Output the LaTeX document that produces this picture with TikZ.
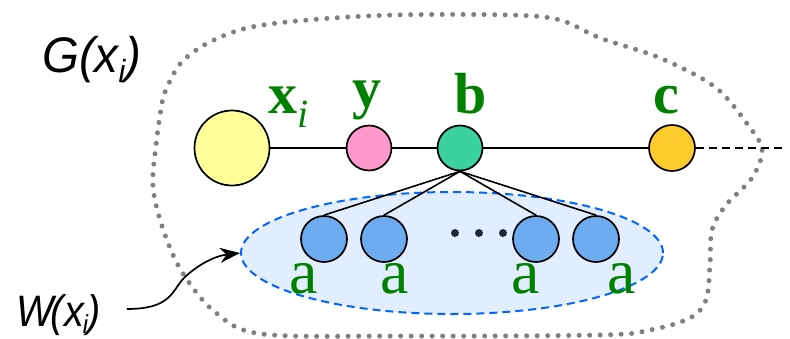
\documentclass[tikz,border=0pt]{standalone}
\usepackage{fontspec}
\setmainfont{Liberation Serif}
\newfontfamily\sansfnt{Liberation Sans}
\usetikzlibrary{arrows.meta,shapes.geometric}
\definecolor{lblgreen}{RGB}{0,128,0}
\definecolor{yel}{RGB}{255,255,153}
\definecolor{pnk}{RGB}{255,153,204}
\definecolor{tea}{RGB}{60,210,160}
\definecolor{org}{RGB}{255,204,45}
\definecolor{blu}{RGB}{110,172,240}
\definecolor{ellfill}{RGB}{226,238,253}
\definecolor{elldash}{RGB}{0,102,255}
\definecolor{dotgray}{RGB}{128,128,128}
\definecolor{dotdark}{RGB}{30,40,60}
\tikzset{
  vtx/.style={circle, draw=black, line width=1.7pt, inner sep=0pt, minimum size=#1},
  glabel/.style={text=lblgreen, inner sep=0pt, anchor=base, font=\fontsize{58}{58}\selectfont\bfseries},
  alabel/.style={text=lblgreen, inner sep=0pt, anchor=base, font=\fontsize{64}{64}\selectfont},
  slabel/.style={inner sep=0pt, anchor=base west, font=\fontsize{50}{50}\selectfont\sansfnt\itshape},
  edge/.style={line width=1.6pt, black},
  outline/.style={draw=dotgray, line width=5pt, line cap=round, dash pattern=on 0pt off 10.5pt},
}
\begin{document}
\begin{tikzpicture}[x=1pt,y=-1pt]
\useasboundingbox (0,0) rectangle (790,338);

% dotted outline of G(x_i)
\draw[outline] plot[smooth cycle, tension=0.55] coordinates {
 (165,92) (180,64) (206,44) (247,28) (308,20) (394,15) (510,15) (560,20)
 (600,38) (660,58) (715,87) (748,125) (762,150) (752,178) (726,205)
 (712,230) (710,265) (706,300) (690,318) (650,330) (600,335) (400,336)
 (262,334) (215,312) (182,272) (163,229) (153,187) (156,145) (162,103)};

% dashed ellipse W(x_i)
\node (ell) [ellipse, draw=elldash, fill=ellfill, dash pattern=on 8pt off 5pt,
  line width=2pt, minimum width=422pt, minimum height=122pt, inner sep=0pt] at (452,253) {};

% main chain
\node (nx) [vtx=75pt, fill=yel] at (232,148) {};
\node (ny) [vtx=45pt, fill=pnk] at (369,148) {};
\node (nb) [vtx=45pt, fill=tea] at (460,148) {};
\node (nc) [vtx=46pt, fill=org] at (672,148) {};
\coordinate (cend) at (786,148);

\draw[edge] (nx) -- (ny);
\draw[edge] (ny) -- (nb);
\draw[edge] (nb) -- (nc);
\draw[edge, dash pattern=on 8pt off 5pt] (nc) -- (cend);

% children
\node (a1) [vtx=46pt, fill=blu] at (324,239) {};
\node (a2) [vtx=46pt, fill=blu] at (384,239) {};
\node (a3) [vtx=46pt, fill=blu] at (536,239) {};
\node (a4) [vtx=46pt, fill=blu] at (596,239) {};
\foreach \k in {a1,a2,a3,a4} \draw[edge] (nb.south) -- (\k.north);

\foreach \p [count=\j] in {455,479,503}
  \node (dot\j) [circle, fill=dotdark, inner sep=0pt, minimum size=8pt] at (\p,233) {};

% labels
\node (lx) [glabel] at (289,113) {x\raisebox{-14pt}{\fontsize{40}{40}\selectfont\mdseries\itshape i}};
\node (ly) [glabel] at (367,107) {y};
\node (lb) [glabel] at (471,113) {b};
\node (lc) [glabel] at (666,113) {c};
\node (la1) [alabel] at (304,293) {a};
\node (la2) [alabel] at (395,293) {a};
\node (la3) [alabel] at (526,293) {a};
\node (la4) [alabel] at (622,293) {a};

\node (lG) [slabel, xscale=0.95] at (42,72) {G(x\raisebox{-10pt}{\fontsize{32}{32}\selectfont i})};
\node (lW) [slabel, xscale=0.9, font=\fontsize{44}{44}\selectfont\sansfnt\itshape] at (16,326)
  {W\kern-3pt(x\kern-1pt\raisebox{-7pt}{\fontsize{26}{26}\selectfont i}\kern-1pt)};
\coordinate (wstart) at (127,309);

\draw[line width=1.7pt, -{Stealth[length=20pt, width=15pt]}]
  (wstart) .. controls (172,309) and (172,290) .. (184,278)
  .. controls (196,266) and (214,256) .. (ell.west);
\end{tikzpicture}
\end{document}
